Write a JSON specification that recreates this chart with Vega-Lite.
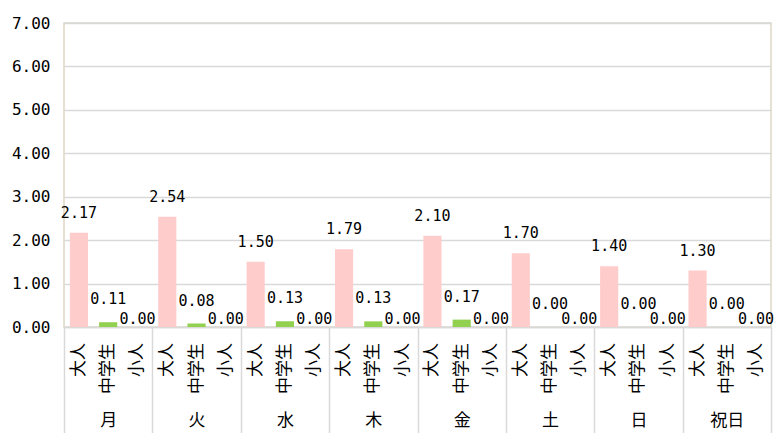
{
  "$schema": "https://vega.github.io/schema/vega-lite/v6.json",
  "autosize": {"type": "none"},
  "width": 707,
  "height": 304,
  "padding": {"left": 64, "top": 23, "right": 3, "bottom": 106},
  "background": "white",
  "config": {
    "font": "Noto Sans CJK JP",
    "view": {"stroke": "#DDD8C4", "strokeWidth": 1.5}
  },
  "data": {
    "values": [
      {"day": "月", "cat": "大人", "value": 2.17},
      {"day": "月", "cat": "中学生", "value": 0.11},
      {"day": "月", "cat": "小人", "value": 0.0},
      {"day": "火", "cat": "大人", "value": 2.54},
      {"day": "火", "cat": "中学生", "value": 0.08},
      {"day": "火", "cat": "小人", "value": 0.0},
      {"day": "水", "cat": "大人", "value": 1.5},
      {"day": "水", "cat": "中学生", "value": 0.13},
      {"day": "水", "cat": "小人", "value": 0.0},
      {"day": "木", "cat": "大人", "value": 1.79},
      {"day": "木", "cat": "中学生", "value": 0.13},
      {"day": "木", "cat": "小人", "value": 0.0},
      {"day": "金", "cat": "大人", "value": 2.1},
      {"day": "金", "cat": "中学生", "value": 0.17},
      {"day": "金", "cat": "小人", "value": 0.0},
      {"day": "土", "cat": "大人", "value": 1.7},
      {"day": "土", "cat": "中学生", "value": 0.0},
      {"day": "土", "cat": "小人", "value": 0.0},
      {"day": "日", "cat": "大人", "value": 1.4},
      {"day": "日", "cat": "中学生", "value": 0.0},
      {"day": "日", "cat": "小人", "value": 0.0},
      {"day": "祝日", "cat": "大人", "value": 1.3},
      {"day": "祝日", "cat": "中学生", "value": 0.0},
      {"day": "祝日", "cat": "小人", "value": 0.0}
    ]
  },
  "encoding": {
    "x": {
      "field": "day", "type": "nominal",
      "sort": ["月", "火", "水", "木", "金", "土", "日", "祝日"],
      "scale": {"paddingInner": 0, "paddingOuter": 0},
      "axis": {
        "title": null, "labelAngle": 0, "tickBand": "extent", "tickSize": 106,
        "tickColor": "#D9D9D9", "tickWidth": 1.5, "domainColor": "#D9D9D9", "domainWidth": 1.5,
        "labelPadding": -21, "labelFontSize": 17, "labelColor": "#000000", "labelBaseline": "top"
      }
    },
    "xOffset": {
      "field": "cat", "type": "nominal",
      "sort": ["大人", "中学生", "小人"],
      "scale": {"paddingInner": 0.38, "paddingOuter": 0.2}
    }
  },
  "layer": [
    {
      "mark": {"type": "bar"},
      "encoding": {
        "y": {
          "field": "value", "type": "quantitative",
          "scale": {"domain": [0, 7], "nice": false},
          "axis": {
            "title": null, "values": [0, 1, 2, 3, 4, 5, 6, 7], "format": ".2f",
            "ticks": false, "domain": false, "gridColor": "#D9D9D9", "gridWidth": 1.5,
            "labelFont": "DejaVu Sans Mono", "labelFontSize": 16, "labelColor": "#000000", "labelPadding": 14
          }
        },
        "color": {
          "field": "cat", "type": "nominal", "legend": null,
          "scale": {"domain": ["大人", "中学生", "小人"], "range": ["#FFCCCC", "#92D050", "#8EB4E3"]}
        }
      }
    },
    {
      "transform": [{"filter": "datum.cat === '大人'"}],
      "mark": {"type": "text", "dy": -20, "font": "DejaVu Sans Mono", "fontSize": 15, "baseline": "middle", "color": "#000000"},
      "encoding": {
        "y": {"field": "value", "type": "quantitative"},
        "text": {"field": "value", "type": "quantitative", "format": ".2f"}
      }
    },
    {
      "transform": [{"filter": "datum.cat === '中学生'"}],
      "mark": {"type": "text", "dy": -23, "font": "DejaVu Sans Mono", "fontSize": 15, "baseline": "middle", "color": "#000000"},
      "encoding": {
        "y": {"field": "value", "type": "quantitative"},
        "text": {"field": "value", "type": "quantitative", "format": ".2f"}
      }
    },
    {
      "transform": [{"filter": "datum.cat === '小人'"}],
      "mark": {"type": "text", "dy": -8, "font": "DejaVu Sans Mono", "fontSize": 15, "baseline": "middle", "color": "#000000"},
      "encoding": {
        "y": {"field": "value", "type": "quantitative"},
        "text": {"field": "value", "type": "quantitative", "format": ".2f"}
      }
    },
    {
      "mark": {"type": "text", "angle": 270, "align": "right", "baseline": "middle", "dx": -16, "fontSize": 17, "color": "#000000"},
      "encoding": {
        "y": {"datum": 0},
        "text": {"field": "cat", "type": "nominal"}
      }
    }
  ]
}
